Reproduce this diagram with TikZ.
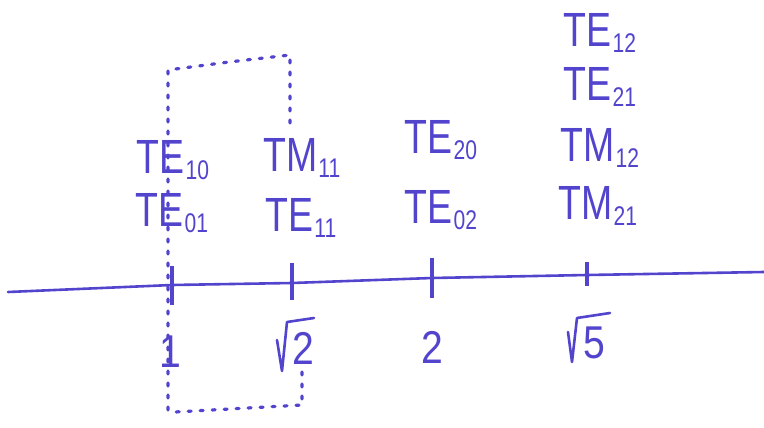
\documentclass[tikz,border=0pt]{standalone}
\usepackage{fontspec}
\setmainfont{Liberation Sans}
\definecolor{ink}{RGB}{82,68,205}
\newcommand{\mlab}[2]{\scalebox{0.78}[1]{\fontsize{48}{48}\selectfont #1\hspace{1pt}\raisebox{-6pt}{\fontsize{27}{27}\selectfont #2}}}
\newcommand{\vlab}[1]{\scalebox{0.85}[1]{\fontsize{46}{46}\selectfont #1}}
\begin{document}
\begin{tikzpicture}[x=1pt,y=-1pt,
  every node/.style={text=ink,inner sep=0pt},
  axisline/.style={draw=ink,line width=2.6pt,line cap=round},
  tickmark/.style={draw=ink,line width=3.6pt},
  radical/.style={draw=ink,line width=2.6pt,line cap=round,line join=round},
  dotline/.style={draw=ink,line width=3.2pt,line cap=round,dash pattern=on 3pt off 9pt}]
\useasboundingbox (0,0) rectangle (764,428);
% axis
\coordinate (aL) at (8,292);
\coordinate (aR) at (764,272);
\draw[axisline] (aL) -- (172,285) -- (292,283) -- (432,278) -- (587,275) -- (aR);
% ticks
\draw[tickmark] (172,266) -- (172,305);
\draw[tickmark] (292,263) -- (292,300);
\draw[tickmark] (432,258) -- (432,298);
\draw[tickmark] (587,262) -- (587,286);
% dotted box
\draw[dotline] (168,410) -- (168,70) -- (229,62) -- (290,55) -- (290,125);
\draw[dotline] (302,372) -- (302,405) -- (175,412);
% mode labels
\node (te10) at (173,160) {\mlab{TE}{10}};
\node (te01) at (172,213) {\mlab{TE}{01}};
\node (tm11) at (302,158) {\mlab{TM}{11}};
\node (te11) at (301,218) {\mlab{TE}{11}};
\node (te20) at (441,140) {\mlab{TE}{20}};
\node (te02) at (441,210) {\mlab{TE}{02}};
\node (te12) at (600,33) {\mlab{TE}{12}};
\node (te21) at (600,87) {\mlab{TE}{21}};
\node (tm12) at (600,148) {\mlab{TM}{12}};
\node (tm21) at (598,206) {\mlab{TM}{21}};
% values
\node (v1) at (170,352) {\vlab{1}};
\node (v2) at (303,348) {\vlab{2}};
\draw[radical] (277,340) -- (282,371) -- (287,322) -- (314,318);
\node (v3) at (432,347) {\vlab{2}};
\node (v4) at (594,343) {\vlab{5}};
\draw[radical] (568,332) -- (572,362) -- (577,318) -- (610,313);
\end{tikzpicture}
\end{document}
